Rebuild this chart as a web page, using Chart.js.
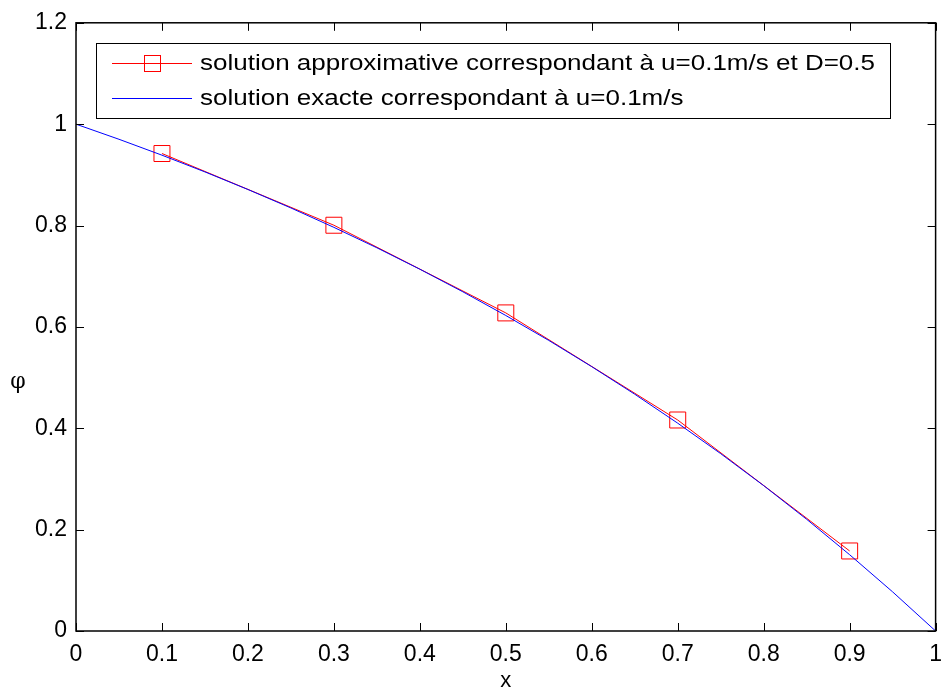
<!DOCTYPE html>
<html><head><meta charset="utf-8">
<script src="https://cdn.jsdelivr.net/npm/chart.js@4/dist/chart.umd.min.js"></script>
<style>html,body{margin:0;padding:0;background:#fff}#wrap{width:952px;height:693px}</style>
</head><body><div id="wrap"><canvas id="c" width="952" height="693"></canvas></div>
<script>
const approxX = [0.1, 0.3, 0.5, 0.7, 0.9];
const approxY = [0.9421, 0.8006, 0.6276, 0.4163, 0.1579];
const exactX = [0, 0.05, 0.1, 0.15, 0.2, 0.25, 0.3, 0.35, 0.4, 0.45, 0.5, 0.55, 0.6, 0.65, 0.7, 0.75, 0.8, 0.85, 0.9, 0.95, 1];
const exactY = [1, 0.9702, 0.9388, 0.9058, 0.8711, 0.8347, 0.7964, 0.7561, 0.7138, 0.6693, 0.6225, 0.5733, 0.5215, 0.4672, 0.4100, 0.3499, 0.2868, 0.2204, 0.1505, 0.0772, 0];
const xTicks = [0, 0.1, 0.2, 0.3, 0.4, 0.5, 0.6, 0.7, 0.8, 0.9, 1];
const yTicks = [0, 0.2, 0.4, 0.6, 0.8, 1, 1.2];
const labels = ['solution approximative correspondant à u=0.1m/s et D=0.5', 'solution exacte correspondant à u=0.1m/s'];
const xTitle = 'x';
const yTitle = 'φ';

const FONT = '"Liberation Sans", Arial, sans-serif';
const FS = 22;

const frame = {
  id: 'frame',
  afterDatasetsDraw(chart) {
    const {ctx, chartArea: a, scales: {x, y}} = chart;
    ctx.save();
    ctx.strokeStyle = '#000';
    ctx.lineWidth = 1.5;
    ctx.strokeRect(a.left, a.top, a.right - a.left, a.bottom - a.top);
    ctx.lineWidth = 1;
    const L = 8;
    ctx.beginPath();
    xTicks.forEach(v => {
      const px = Math.round(x.getPixelForValue(v)) + 0.5;
      ctx.moveTo(px, a.bottom); ctx.lineTo(px, a.bottom - L);
      ctx.moveTo(px, a.top); ctx.lineTo(px, a.top + L);
    });
    yTicks.forEach(v => {
      const py = Math.round(y.getPixelForValue(v)) + 0.5;
      ctx.moveTo(a.left, py); ctx.lineTo(a.left + L, py);
      ctx.moveTo(a.right, py); ctx.lineTo(a.right - L, py);
    });
    ctx.stroke();
    // axis titles
    ctx.fillStyle = '#000';
    ctx.textAlign = 'center';
    ctx.textBaseline = 'middle';
    ctx.font = FS + 'px ' + FONT;
    ctx.fillText(xTitle, (a.left + a.right) / 2, 681);
    ctx.font = '22px "DejaVu Serif", serif';
    ctx.fillText(yTitle, 18, 382);
    // legend
    const bx = 96, by = 43, bw = 794, bh = 75;
    ctx.fillStyle = '#fff';
    ctx.fillRect(bx, by, bw, bh);
    ctx.strokeStyle = '#000';
    ctx.lineWidth = 1;
    ctx.strokeRect(bx + 0.5, by + 0.5, bw, bh);
    const rows = [63, 98];
    ctx.font = FS + 'px ' + FONT;
    const sx = Math.min(1.3, 675 / ctx.measureText(chart.data.datasets[0].label).width);
    chart.data.datasets.forEach((ds, i) => {
      const yy = rows[i] + 0.5;
      ctx.strokeStyle = ds.borderColor;
      ctx.lineWidth = 1;
      ctx.beginPath(); ctx.moveTo(112, yy); ctx.lineTo(192, yy); ctx.stroke();
      if (i === 0) {
        ctx.strokeRect(144.5, yy - 8, 16, 16);
      }
      ctx.save();
      ctx.fillStyle = '#000';
      ctx.font = FS + 'px ' + FONT;
      ctx.textBaseline = 'middle';
      ctx.textAlign = 'left';
      ctx.translate(200, rows[i] + 1);
      ctx.scale(sx, 1);
      ctx.fillText(ds.label, 0, 0);
      ctx.restore();
    });
    ctx.restore();
  }
};

new Chart(document.getElementById('c'), {
  type: 'scatter',
  data: {
    datasets: [
      {
        label: labels[0],
        data: approxX.map((v, i) => ({x: v, y: approxY[i]})),
        showLine: true,
        borderColor: '#ff0000',
        borderWidth: 1,
        backgroundColor: 'rgba(0,0,0,0)',
        pointStyle: 'rect',
        pointRadius: 11.3,
        pointBorderColor: '#ff0000',
        pointBorderWidth: 1,
        pointBackgroundColor: 'rgba(0,0,0,0)',
        order: 2
      },
      {
        label: labels[1],
        data: exactX.map((v, i) => ({x: v, y: exactY[i]})),
        showLine: true,
        borderColor: '#0000ff',
        borderWidth: 1,
        pointRadius: 0,
        tension: 0,
        order: 1
      }
    ]
  },
  options: {
    responsive: false,
    animation: false,
    events: [],
    layout: {padding: {top: 21, right: 9, left: 0, bottom: 0}},
    plugins: {legend: {display: false}, tooltip: {enabled: false}},
    scales: {
      x: {
        type: 'linear', min: 0, max: 1,
        afterBuildTicks(s) { s.ticks = xTicks.map(v => ({value: v})); },
        afterFit(s) { s.height = 62; },
        grid: {display: false, drawTicks: false},
        border: {display: false},
        ticks: {color: '#000', font: {family: FONT, size: 23}, padding: 10, maxRotation: 0,
          callback: v => String(v)},
        title: {display: false}
      },
      y: {
        type: 'linear', min: 0, max: 1.2,
        afterBuildTicks(s) { s.ticks = yTicks.map(v => ({value: v})); },
        afterFit(s) { s.width = 76; },
        grid: {display: false, drawTicks: false},
        border: {display: false},
        ticks: {color: '#000', font: {family: FONT, size: 23}, padding: 9,
          callback: v => String(Math.round(v * 10) / 10)},
        title: {display: false}
      }
    }
  },
  plugins: [frame]
});
</script>
</body></html>
